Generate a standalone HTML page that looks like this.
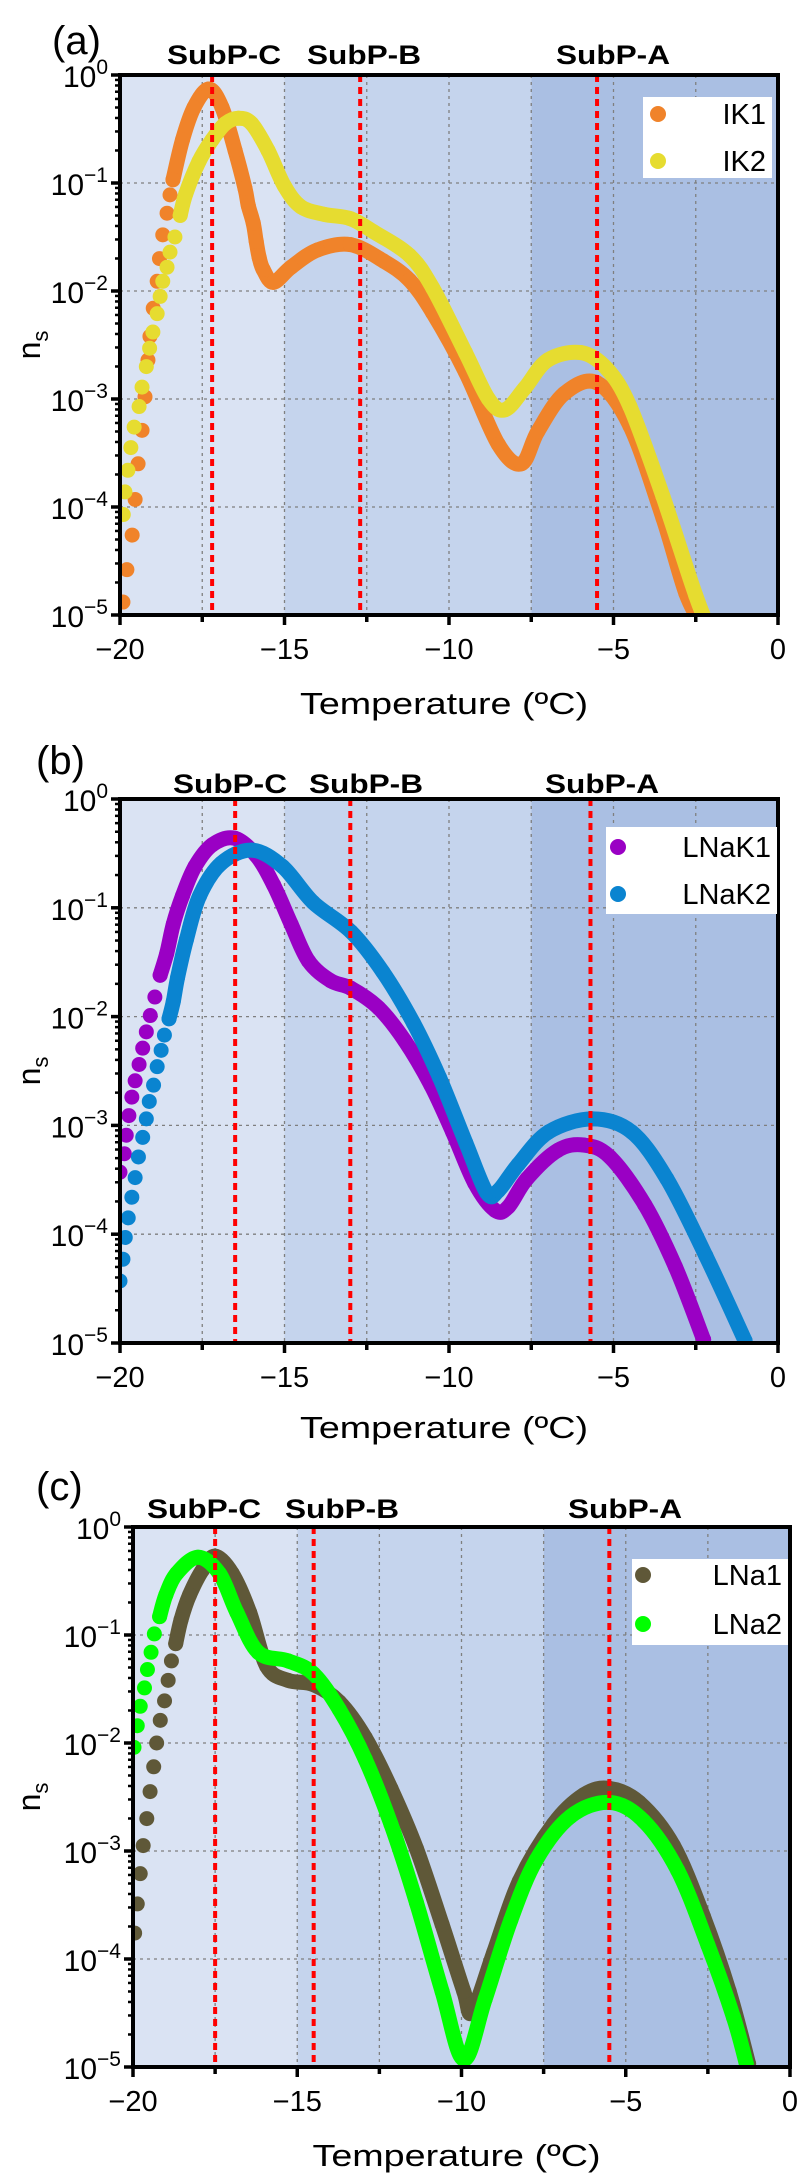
<!DOCTYPE html>
<html><head><meta charset="utf-8">
<style>
html,body{margin:0;padding:0;background:#fff;}
svg{display:block;font-family:"Liberation Sans",Arial,sans-serif;}
</style></head>
<body>
<svg id="fig" width="797" height="2177" viewBox="0 0 797 2177" xmlns="http://www.w3.org/2000/svg"></svg>
<script>
// ---- Panel (a) data: temperature (°C) and log10(ns) ----
const ik1T = [-19.91,-19.79,-19.63,-19.54,-19.45,-19.33,-19.24,-19.15,-19.09,-18.99,-18.87,-18.8,-18.7,-18.57,-18.48,-18.39,-18.1,-17.75,-17.3,-16.9,-16.5,-16.2,-16.1,-15.95,-15.86,-15.77,-15.65,-15.34,-14.8,-14.0,-13.0,-12.0,-11.2,-10.5,-9.5,-8.5,-7.8,-7.3,-6.5,-5.5,-4.5,-3.5,-2.8,-2.3];
const ik1Log = [-4.88,-4.58,-4.26,-3.93,-3.6,-3.29,-2.98,-2.64,-2.42,-2.16,-1.91,-1.7,-1.48,-1.28,-1.11,-0.97,-0.6,-0.3,-0.13,-0.3,-0.7,-1.05,-1.21,-1.37,-1.54,-1.69,-1.8,-1.92,-1.78,-1.62,-1.57,-1.72,-1.9,-2.2,-2.75,-3.42,-3.6,-3.3,-2.95,-2.85,-3.25,-4.1,-4.8,-5.1];
const ik2T = [-19.9,-19.85,-19.76,-19.67,-19.57,-19.42,-19.33,-19.2,-19.1,-19.0,-18.87,-18.78,-18.7,-18.57,-18.48,-18.33,-18.17,-18.0,-17.6,-17.2,-16.8,-16.4,-16.0,-15.5,-15.0,-14.5,-13.8,-13.0,-12.3,-11.2,-10.5,-9.5,-8.8,-8.3,-7.7,-7.0,-6.0,-5.2,-4.5,-3.5,-2.5,-2.0];
const ik2Log = [-4.07,-3.86,-3.66,-3.45,-3.26,-3.07,-2.89,-2.7,-2.53,-2.38,-2.21,-2.05,-1.91,-1.78,-1.64,-1.5,-1.3,-1.1,-0.8,-0.6,-0.45,-0.4,-0.45,-0.7,-1.03,-1.22,-1.29,-1.33,-1.45,-1.67,-1.97,-2.57,-3.0,-3.1,-2.9,-2.64,-2.57,-2.72,-3.07,-3.9,-4.82,-5.2];
// ---- Panel (b) data ----
const lnak1T = [-20,-19.87,-19.81,-19.73,-19.64,-19.54,-19.42,-19.31,-19.2,-19.08,-18.94,-18.78,-18.58,-18.38,-18.1,-17.72,-17.19,-16.52,-15.86,-15.33,-14.8,-14.27,-13.6,-12.98,-12.14,-11.35,-10.55,-9.89,-9.22,-8.6,-8.2,-7.63,-6.7,-5.91,-5.11,-4.05,-3.12,-2.26];
const lnak1Log = [-3.43,-3.26,-3.09,-2.91,-2.74,-2.59,-2.44,-2.29,-2.14,-1.99,-1.82,-1.62,-1.42,-1.15,-0.89,-0.62,-0.42,-0.36,-0.52,-0.79,-1.15,-1.49,-1.67,-1.74,-1.92,-2.22,-2.63,-3.06,-3.53,-3.78,-3.75,-3.49,-3.23,-3.18,-3.29,-3.73,-4.3,-4.97];
const lnak2T = [-20,-19.91,-19.84,-19.75,-19.64,-19.54,-19.44,-19.31,-19.2,-19.11,-18.98,-18.87,-18.75,-18.65,-18.51,-18.38,-18.25,-17.98,-17.58,-16.92,-15.99,-15.06,-14.13,-12.98,-12.01,-11.08,-10.29,-9.49,-8.85,-8.5,-7.9,-6.97,-5.64,-4.45,-3.38,-2.19,-1.0];
const lnak2Log = [-4.43,-4.23,-4.03,-3.85,-3.66,-3.48,-3.29,-3.11,-2.94,-2.78,-2.63,-2.46,-2.31,-2.17,-2.02,-1.86,-1.64,-1.29,-0.89,-0.59,-0.47,-0.62,-0.95,-1.22,-1.59,-2.06,-2.56,-3.16,-3.62,-3.6,-3.36,-3.06,-2.94,-3.06,-3.49,-4.2,-4.98];
// ---- Panel (c) data ----
const lna1T = [-19.95,-19.87,-19.78,-19.69,-19.58,-19.48,-19.37,-19.28,-19.17,-19.04,-18.93,-18.83,-18.7,-18.54,-18.28,-17.89,-17.5,-16.98,-16.45,-15.93,-15.28,-14.5,-13.72,-12.93,-12.15,-11.37,-10.59,-9.93,-9.67,-9.02,-8.24,-7.2,-6.28,-5.5,-4.59,-3.55,-2.63,-1.85,-1.26];
const lna1Log = [-3.76,-3.49,-3.21,-2.95,-2.7,-2.45,-2.22,-2.0,-1.79,-1.61,-1.42,-1.24,-1.08,-0.86,-0.63,-0.4,-0.27,-0.43,-0.79,-1.29,-1.42,-1.46,-1.62,-1.95,-2.42,-2.98,-3.68,-4.3,-4.49,-3.94,-3.28,-2.75,-2.48,-2.42,-2.55,-2.95,-3.61,-4.3,-4.97];
const lna2T = [-19.97,-19.87,-19.78,-19.65,-19.56,-19.45,-19.35,-19.19,-19.0,-18.67,-18.02,-17.37,-16.84,-16.19,-15.28,-14.5,-13.72,-12.93,-12.15,-11.37,-10.59,-9.93,-9.28,-8.5,-7.72,-6.68,-5.5,-4.46,-3.42,-2.5,-1.72,-1.33];
const lna2Log = [-2.04,-1.84,-1.66,-1.49,-1.32,-1.16,-0.99,-0.83,-0.63,-0.43,-0.28,-0.43,-0.79,-1.16,-1.24,-1.36,-1.69,-2.15,-2.75,-3.48,-4.3,-4.93,-4.37,-3.64,-3.08,-2.68,-2.55,-2.72,-3.18,-3.87,-4.54,-4.97];
// ---- axes ----
const xTicks = [-20,-15,-10,-5,0];
const xTickLabels = ["\u221220","\u221215","\u221210","\u22125","0"];
const yDecades = [0,-1,-2,-3,-4,-5];
const yTickSup = ["0","\u22121","\u22122","\u22123","\u22124","\u22125"];
const subpNames = ["SubP-C","SubP-B","SubP-A"];

const NS="http://www.w3.org/2000/svg";
const svg=document.getElementById('fig');
function el(tag,attrs,parent){const e=document.createElementNS(NS,tag);for(const k in attrs)e.setAttribute(k,attrs[k]);(parent||svg).appendChild(e);return e;}

// "dots" = number of leading points rendered as separate markers (style only)
const panels=[
 {id:'a',L:120,R:778,T:75,B:615,lab:'(a)',labY:40,subY:64,subX:[224,364,613],lines:[-17.2,-12.7,-5.5],
  series:[{n:'IK1',t:ik1T,v:ik1Log,c:'#f0832a',dots:16},{n:'IK2',t:ik2T,v:ik2Log,c:'#e6dc30',dots:17}],
  leg:{x:643,y:97,w:129,h:81,mx:658,my:[114,161]},titleY:714},
 {id:'b',L:120,R:778,T:799,B:1343,lab:'(b)',labY:760,subY:793,subX:[230,366,602],lines:[-16.5,-13,-5.7],
  series:[{n:'LNaK1',t:lnak1T,v:lnak1Log,c:'#9a00c4',dots:12},{n:'LNaK2',t:lnak2T,v:lnak2Log,c:'#0a84d0',dots:15}],
  leg:{x:606,y:827,w:171,h:87,mx:618,my:[847,894]},titleY:1438},
 {id:'c',L:133,R:790,T:1527,B:2067,lab:'(c)',labY:1486,subY:1518,subX:[204,342,625],lines:[-17.5,-14.5,-5.5],
  series:[{n:'LNa1',t:lna1T,v:lna1Log,c:'#5f5838',dots:13},{n:'LNa2',t:lna2T,v:lna2Log,c:'#00ff00',dots:8}],
  leg:{x:632,y:1559,w:156,h:86,mx:643,my:[1575,1624]},titleY:2166}
];

function catmull(pts){
  let d='M'+pts[0][0]+','+pts[0][1];
  for(let i=0;i<pts.length-1;i++){
    const p0=pts[Math.max(0,i-1)],p1=pts[i],p2=pts[i+1],p3=pts[Math.min(pts.length-1,i+2)];
    const c1=[p1[0]+(p2[0]-p0[0])/6,p1[1]+(p2[1]-p0[1])/6];
    const c2=[p2[0]-(p3[0]-p1[0])/6,p2[1]-(p3[1]-p1[1])/6];
    d+=' C'+c1[0].toFixed(1)+','+c1[1].toFixed(1)+' '+c2[0].toFixed(1)+','+c2[1].toFixed(1)+' '+p2[0].toFixed(1)+','+p2[1].toFixed(1);
  }
  return d;
}

panels.forEach(p=>{
  const g=el('g',{});
  
  
  const xs=t=>p.L+(t+20)/20*(p.R-p.L);
  const ys=l=>p.T+(-l)/5*(p.B-p.T);
  const bands=[[-20,-15,'#dae3f3'],[-15,-7.5,'#c5d4ed'],[-7.5,0,'#aabfe3']];
  bands.forEach((b,i)=>{const r=el('rect',{x:xs(b[0]),y:p.T,width:xs(b[1])-xs(b[0]),height:p.B-p.T,fill:b[2]},g);
    
    });
  for(let t=-17.5;t<0;t+=2.5){const l=el('line',{x1:xs(t),x2:xs(t),y1:p.T,y2:p.B,stroke:'#7f7f7f','stroke-width':1.3,'stroke-dasharray':'3 4'},g);
    
    }
  for(let d=-1;d>=-4;d--){const l=el('line',{x1:p.L,x2:p.R,y1:ys(d),y2:ys(d),stroke:'#7f7f7f','stroke-width':1.3,'stroke-dasharray':'3 4'},g);
    
    }
  const cp=el('clipPath',{id:'clip'+p.id},g);
  el('rect',{x:p.L,y:p.T,width:p.R-p.L,height:p.B-p.T},cp);
  const sg=el('g',{'clip-path':'url(#clip'+p.id+')'},g);
  p.series.forEach(s=>{
    const sgrp=el('g',{},sg);
    
    
    const pts=s.t.map((t,i)=>[xs(t),ys(s.v[i])]);
    const start=Math.max(0,s.dots-1);
    el('path',{d:catmull(pts.slice(start)),fill:'none',stroke:s.c,'stroke-width':15,'stroke-linecap':'round','stroke-linejoin':'round'},sgrp);
    pts.forEach(q=>{const c=el('circle',{cx:q[0],cy:q[1],r:7.5,fill:s.c},sgrp);
      
      });
  });
  p.lines.forEach((t,i)=>{const l=el('line',{x1:xs(t),x2:xs(t),y1:p.T,y2:p.B,stroke:'#ff0000','stroke-width':4,'stroke-dasharray':'7 5'},g);
    
    });
  const fr=el('rect',{x:p.L,y:p.T,width:p.R-p.L,height:p.B-p.T,fill:'none',stroke:'#000','stroke-width':4},g);
  
  
  for(let t=-20;t<=0;t+=2.5){const maj=(t%5===0);el('line',{x1:xs(t),x2:xs(t),y1:p.B,y2:p.B+(maj?10:7),stroke:'#000','stroke-width':3.5},g);}
  xTicks.forEach((t,i)=>{const tx=el('text',{x:xs(t),y:p.B+44,'text-anchor':'middle','font-size':29,fill:'#000'},g);
    tx.textContent=xTickLabels[i];
    
    });
  yDecades.forEach((d,i)=>{
    el('line',{x1:p.L-9,x2:p.L,y1:ys(d),y2:ys(d),stroke:'#000','stroke-width':3.5},g);
    if(d>-5){for(let m=2;m<=9;m++){const yy=ys(d-1+Math.log10(m));el('line',{x1:p.L-5,x2:p.L,y1:yy,y2:yy,stroke:'#000','stroke-width':2.5},g);}}
    const tx=el('text',{x:p.L-12,y:ys(d)+12,'text-anchor':'end','font-size':30,fill:'#000'},g);
    
    
    tx.appendChild(document.createTextNode('10'));
    const sup=el('tspan',{dy:-13,'font-size':21},tx);sup.textContent=yTickSup[i];
  });
  const xt=el('text',{x:(p.L+p.R)/2-5,y:p.titleY,'text-anchor':'middle','font-size':31,fill:'#000',textLength:288,lengthAdjust:'spacingAndGlyphs'},g);
  
  
  xt.appendChild(document.createTextNode('Temperature (\u00baC)'));
  const yt=el('text',{x:0,y:0,'text-anchor':'middle','font-size':32,fill:'#000',transform:'translate(40,'+((p.T+p.B)/2)+') rotate(-90)'},g);
  
  
  yt.appendChild(document.createTextNode('n'));
  const ss=el('tspan',{dy:8,'font-size':22},yt);ss.textContent='s';
  const pl=el('text',{x:p.id==='a'?52:36,y:p.labY+14,'font-size':40,fill:'#000'},g);
  pl.textContent=p.lab;
  
  
  subpNames.forEach((n,i)=>{const tx=el('text',{x:p.subX[i],y:p.subY,'text-anchor':'middle','font-size':27,'font-weight':'bold',fill:'#000',textLength:114,lengthAdjust:'spacingAndGlyphs'},g);
    tx.textContent=n;
    
    });
  const lg=el('g',{},g);
  
  
  el('rect',{x:p.leg.x,y:p.leg.y,width:p.leg.w,height:p.leg.h,fill:'#fff'},lg);
  p.series.forEach((s,i)=>{
    el('circle',{cx:p.leg.mx,cy:p.leg.my[i],r:8,fill:s.c},lg);
    const tx=el('text',{x:p.leg.x+p.leg.w-6,y:p.leg.my[i]+10,'text-anchor':'end','font-size':29,fill:'#000'},lg);
    tx.textContent=s.n;
    
    
  });
});
</script>
</body></html>
